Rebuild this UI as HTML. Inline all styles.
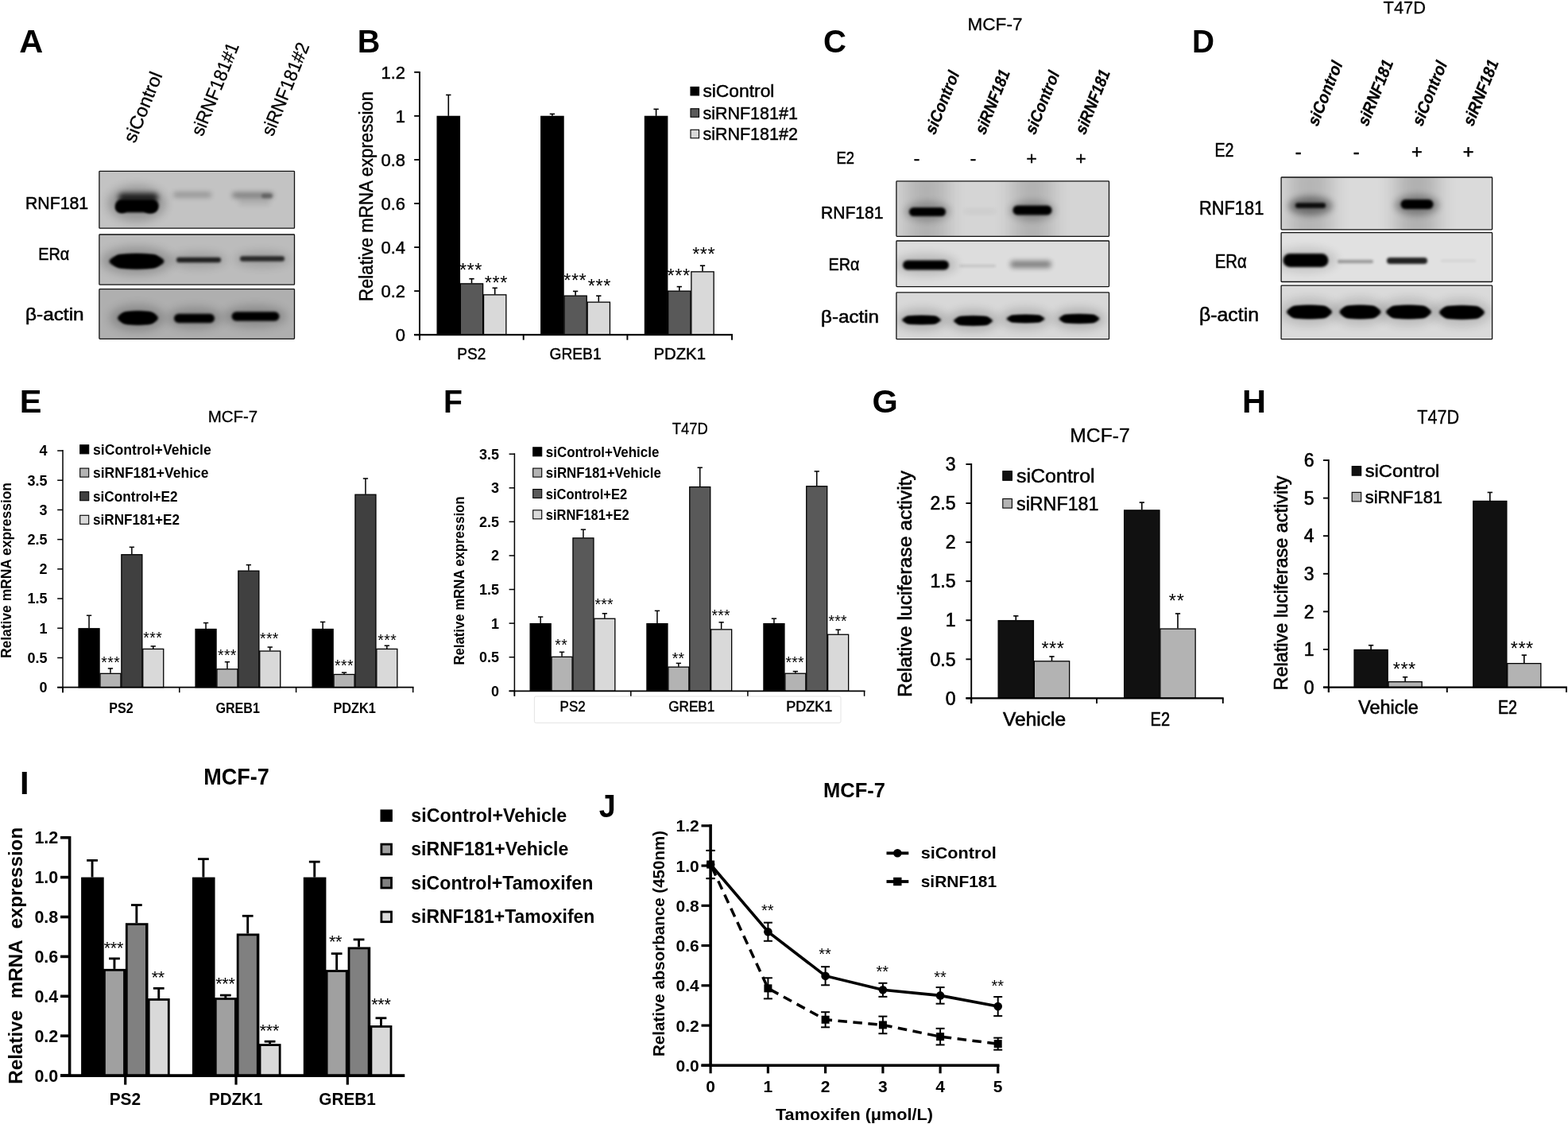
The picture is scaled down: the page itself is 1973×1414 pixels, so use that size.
<!DOCTYPE html>
<html lang="en"><head><meta charset="utf-8"><title>Figure</title>
<style>
html,body{margin:0;padding:0;background:#fff;}
body{width:1973px;height:1414px;overflow:hidden;}
svg{display:block;font-family:"Liberation Sans",sans-serif;}
</style></head><body>
<svg width="1973" height="1414" viewBox="0 0 1973 1414">
<defs>
<filter id="b1" x="-60%" y="-200%" width="220%" height="500%"><feGaussianBlur stdDeviation="1.2"/></filter>
<filter id="b2" x="-60%" y="-200%" width="220%" height="500%"><feGaussianBlur stdDeviation="1.8"/></filter>
<filter id="b3" x="-60%" y="-200%" width="220%" height="500%"><feGaussianBlur stdDeviation="3"/></filter>
<filter id="b4" x="-60%" y="-200%" width="220%" height="500%"><feGaussianBlur stdDeviation="4"/></filter>
<filter id="b6" x="-60%" y="-200%" width="220%" height="500%"><feGaussianBlur stdDeviation="6"/></filter>
<filter id="b8" x="-60%" y="-200%" width="220%" height="500%"><feGaussianBlur stdDeviation="8"/></filter>
<filter id="b12" x="-60%" y="-200%" width="220%" height="500%"><feGaussianBlur stdDeviation="12"/></filter>
<clipPath id="c1"><rect x="124.9" y="215.3" width="245.60" height="71.90"/></clipPath>
<clipPath id="c2"><rect x="124.9" y="295" width="245.60" height="63.20"/></clipPath>
<clipPath id="c3"><rect x="124.9" y="363.7" width="245.60" height="62.70"/></clipPath>
<clipPath id="c4"><rect x="1127.9" y="227.9" width="267.60" height="69.50"/></clipPath>
<clipPath id="c5"><rect x="1127.9" y="303" width="267.60" height="57.60"/></clipPath>
<clipPath id="c6"><rect x="1127.9" y="367.8" width="267.60" height="58.90"/></clipPath>
<clipPath id="c7"><rect x="1612.1" y="223" width="265.50" height="65.90"/></clipPath>
<clipPath id="c8"><rect x="1612.1" y="292.6" width="265.50" height="61.90"/></clipPath>
<clipPath id="c9"><rect x="1612.1" y="359.2" width="265.50" height="67.50"/></clipPath>
</defs>
<rect width="1973" height="1414" fill="#fff"/>
<text x="24.25" y="66.20" font-size="41.5" font-weight="bold">A</text>
<text x="169.80" y="181.00" font-size="23.5" transform="rotate(-68 169.80 181.00)" textLength="93.5" lengthAdjust="spacingAndGlyphs" stroke="#000" stroke-width="0.3">siControl</text>
<text x="254.80" y="172.50" font-size="23.5" transform="rotate(-68 254.80 172.50)" textLength="124.0" lengthAdjust="spacingAndGlyphs" stroke="#000" stroke-width="0.3">siRNF181#1</text>
<text x="343.20" y="172.50" font-size="23.5" transform="rotate(-68 343.20 172.50)" textLength="124.0" lengthAdjust="spacingAndGlyphs" stroke="#000" stroke-width="0.3">siRNF181#2</text>
<text x="32.00" y="263.20" font-size="22.5" textLength="79.2" lengthAdjust="spacingAndGlyphs" stroke="#000" stroke-width="0.55">RNF181</text>
<text x="48.30" y="327.10" font-size="22.5" textLength="39.0" lengthAdjust="spacingAndGlyphs" stroke="#000" stroke-width="0.55">ERα</text>
<text x="32.00" y="402.90" font-size="22.5" textLength="73.6" lengthAdjust="spacingAndGlyphs" stroke="#000" stroke-width="0.55">β-actin</text>
<g clip-path="url(#c1)">
<rect x="124.90" y="215.30" width="245.60" height="71.90" fill="#c3c3c3"/>
<ellipse cx="172" cy="256" rx="37.00" ry="23.00" fill="#000" opacity="0.22" filter="url(#b6)"/>
<rect x="144.80" y="250.75" width="55.00" height="16.50" rx="8.25" fill="#000" opacity="1" filter="url(#b2)"/>
<ellipse cx="153" cy="262" rx="7.50" ry="6.00" fill="#000" opacity="1" filter="url(#b2)"/>
<ellipse cx="189" cy="262.5" rx="8.50" ry="6.00" fill="#000" opacity="1" filter="url(#b2)"/>
<rect x="149.00" y="243.00" width="50.00" height="11.00" rx="5.50" fill="#000" opacity="0.8" filter="url(#b3)"/>
<rect x="218.00" y="241.75" width="48.00" height="6.50" rx="3.25" fill="#000" opacity="0.25" filter="url(#b3)"/>
<rect x="292.00" y="242.00" width="52.00" height="7.00" rx="3.50" fill="#000" opacity="0.36" filter="url(#b3)"/>
<rect x="329.00" y="243.50" width="14.00" height="6.00" rx="3.00" fill="#000" opacity="0.3" filter="url(#b2)"/>
<rect x="300.00" y="250.00" width="40.00" height="8.00" rx="4.00" fill="#000" opacity="0.1" filter="url(#b3)"/>
</g>
<rect x="124.90" y="215.30" width="245.60" height="71.90" fill="none" stroke="#111" stroke-width="1.3" rx="0.8"/>
<g clip-path="url(#c2)">
<rect x="124.90" y="295.00" width="245.60" height="63.20" fill="#bcbcbc"/>
<ellipse cx="172" cy="328" rx="45.00" ry="18.00" fill="#000" opacity="0.2" filter="url(#b6)"/>
<ellipse cx="250" cy="327" rx="35.00" ry="10.00" fill="#000" opacity="0.15" filter="url(#b6)"/>
<ellipse cx="330" cy="326" rx="35.00" ry="10.00" fill="#000" opacity="0.15" filter="url(#b6)"/>
<ellipse cx="172" cy="328.7" rx="34.50" ry="9.75" fill="#000" opacity="1" filter="url(#b2)"/>
<rect x="143.00" y="320.20" width="58.00" height="17.00" rx="8.50" fill="#000" opacity="1" filter="url(#b2)"/>
<rect x="222.00" y="323.75" width="56.00" height="6.50" rx="3.25" fill="#000" opacity="0.8" filter="url(#b2)"/>
<rect x="302.00" y="322.25" width="56.00" height="6.50" rx="3.25" fill="#000" opacity="0.75" filter="url(#b2)"/>
</g>
<rect x="124.90" y="295.00" width="245.60" height="63.20" fill="none" stroke="#111" stroke-width="1.3" rx="0.8"/>
<g clip-path="url(#c3)">
<rect x="124.90" y="363.70" width="245.60" height="62.70" fill="#afafaf"/>
<ellipse cx="173" cy="400" rx="35.00" ry="17.00" fill="#000" opacity="0.2" filter="url(#b6)"/>
<ellipse cx="245" cy="400" rx="35.00" ry="14.00" fill="#000" opacity="0.2" filter="url(#b6)"/>
<ellipse cx="321" cy="398" rx="40.00" ry="14.00" fill="#000" opacity="0.2" filter="url(#b6)"/>
<ellipse cx="173.5" cy="400" rx="25.50" ry="8.75" fill="#000" opacity="1" filter="url(#b2)"/>
<rect x="151.50" y="392.50" width="44.00" height="15.00" rx="7.50" fill="#000" opacity="1" filter="url(#b2)"/>
<rect x="219.00" y="394.75" width="51.00" height="11.50" rx="5.75" fill="#000" opacity="1" filter="url(#b2)"/>
<rect x="291.50" y="392.25" width="60.00" height="11.50" rx="5.75" fill="#000" opacity="1" filter="url(#b2)"/>
</g>
<rect x="124.90" y="363.70" width="245.60" height="62.70" fill="none" stroke="#111" stroke-width="1.3" rx="0.8"/>
<text x="449.82" y="66.00" font-size="41.5" font-weight="bold" textLength="28.6" lengthAdjust="spacingAndGlyphs">B</text>
<rect x="550.15" y="146.37" width="28.30" height="274.83" fill="#000" stroke="#000" stroke-width="1.3"/>
<line x1="564.30" y1="145.87" x2="564.30" y2="119.43" stroke="#000" stroke-width="1.6"/>
<line x1="561.15" y1="119.43" x2="567.45" y2="119.43" stroke="#000" stroke-width="1.6"/>
<rect x="579.35" y="356.89" width="28.30" height="64.31" fill="#595959" stroke="#000" stroke-width="1.3"/>
<line x1="593.50" y1="356.39" x2="593.50" y2="350.71" stroke="#000" stroke-width="1.6"/>
<line x1="590.35" y1="350.71" x2="596.65" y2="350.71" stroke="#000" stroke-width="1.6"/>
<rect x="608.55" y="370.85" width="28.30" height="50.35" fill="#d9d9d9" stroke="#000" stroke-width="1.3"/>
<line x1="622.70" y1="370.35" x2="622.70" y2="362.28" stroke="#000" stroke-width="1.6"/>
<line x1="619.55" y1="362.28" x2="625.85" y2="362.28" stroke="#000" stroke-width="1.6"/>
<rect x="680.75" y="146.37" width="28.30" height="274.83" fill="#000" stroke="#000" stroke-width="1.3"/>
<line x1="694.90" y1="145.87" x2="694.90" y2="143.39" stroke="#000" stroke-width="1.6"/>
<line x1="691.75" y1="143.39" x2="698.05" y2="143.39" stroke="#000" stroke-width="1.6"/>
<rect x="709.95" y="372.14" width="28.30" height="49.06" fill="#595959" stroke="#000" stroke-width="1.3"/>
<line x1="724.10" y1="371.64" x2="724.10" y2="366.41" stroke="#000" stroke-width="1.6"/>
<line x1="720.95" y1="366.41" x2="727.25" y2="366.41" stroke="#000" stroke-width="1.6"/>
<rect x="739.15" y="380.12" width="28.30" height="41.08" fill="#d9d9d9" stroke="#000" stroke-width="1.3"/>
<line x1="753.30" y1="379.62" x2="753.30" y2="372.19" stroke="#000" stroke-width="1.6"/>
<line x1="750.15" y1="372.19" x2="756.45" y2="372.19" stroke="#000" stroke-width="1.6"/>
<rect x="811.45" y="146.37" width="28.30" height="274.83" fill="#000" stroke="#000" stroke-width="1.3"/>
<line x1="825.60" y1="145.87" x2="825.60" y2="137.33" stroke="#000" stroke-width="1.6"/>
<line x1="822.45" y1="137.33" x2="828.75" y2="137.33" stroke="#000" stroke-width="1.6"/>
<rect x="840.65" y="366.19" width="28.30" height="55.01" fill="#595959" stroke="#000" stroke-width="1.3"/>
<line x1="854.80" y1="365.69" x2="854.80" y2="360.63" stroke="#000" stroke-width="1.6"/>
<line x1="851.65" y1="360.63" x2="857.95" y2="360.63" stroke="#000" stroke-width="1.6"/>
<rect x="869.85" y="341.85" width="28.30" height="79.35" fill="#d9d9d9" stroke="#000" stroke-width="1.3"/>
<line x1="884.00" y1="341.35" x2="884.00" y2="334.19" stroke="#000" stroke-width="1.6"/>
<line x1="880.85" y1="334.19" x2="887.15" y2="334.19" stroke="#000" stroke-width="1.6"/>
<line x1="528.00" y1="89.90" x2="528.00" y2="427.70" stroke="#000" stroke-width="1.9"/>
<line x1="521.20" y1="421.20" x2="921.90" y2="421.20" stroke="#000" stroke-width="2.1999999999999997"/>
<line x1="521.20" y1="421.20" x2="528.00" y2="421.20" stroke="#000" stroke-width="1.9"/>
<text x="510.00" y="429.01" font-size="22" text-anchor="end" stroke="#000" stroke-width="0.45">0</text>
<line x1="521.20" y1="366.13" x2="528.00" y2="366.13" stroke="#000" stroke-width="1.9"/>
<text x="510.00" y="373.94" font-size="22" text-anchor="end" stroke="#000" stroke-width="0.45">0.2</text>
<line x1="521.20" y1="311.07" x2="528.00" y2="311.07" stroke="#000" stroke-width="1.9"/>
<text x="510.00" y="318.88" font-size="22" text-anchor="end" stroke="#000" stroke-width="0.45">0.4</text>
<line x1="521.20" y1="256.00" x2="528.00" y2="256.00" stroke="#000" stroke-width="1.9"/>
<text x="510.00" y="263.81" font-size="22" text-anchor="end" stroke="#000" stroke-width="0.45">0.6</text>
<line x1="521.20" y1="200.93" x2="528.00" y2="200.93" stroke="#000" stroke-width="1.9"/>
<text x="510.00" y="208.74" font-size="22" text-anchor="end" stroke="#000" stroke-width="0.45">0.8</text>
<line x1="521.20" y1="145.87" x2="528.00" y2="145.87" stroke="#000" stroke-width="1.9"/>
<text x="510.00" y="153.68" font-size="22" text-anchor="end" stroke="#000" stroke-width="0.45">1</text>
<line x1="521.20" y1="90.80" x2="528.00" y2="90.80" stroke="#000" stroke-width="1.9"/>
<text x="510.00" y="98.61" font-size="22" text-anchor="end" stroke="#000" stroke-width="0.45">1.2</text>
<line x1="528.00" y1="421.20" x2="528.00" y2="427.70" stroke="#000" stroke-width="1.9"/>
<line x1="658.70" y1="421.20" x2="658.70" y2="427.70" stroke="#000" stroke-width="1.9"/>
<line x1="789.40" y1="421.20" x2="789.40" y2="427.70" stroke="#000" stroke-width="1.9"/>
<line x1="921.00" y1="421.20" x2="921.00" y2="427.70" stroke="#000" stroke-width="1.9"/>
<text x="468.50" y="247.00" font-size="23.5" text-anchor="middle" transform="rotate(-90 468.50 247.00)" textLength="264.0" lengthAdjust="spacingAndGlyphs" stroke="#000" stroke-width="0.45">Relative mRNA expression</text>
<text x="593.35" y="452.30" font-size="20.5" text-anchor="middle" textLength="36.0" lengthAdjust="spacingAndGlyphs" stroke="#000" stroke-width="0.45">PS2</text>
<text x="724.05" y="452.30" font-size="20.5" text-anchor="middle" textLength="65.0" lengthAdjust="spacingAndGlyphs" stroke="#000" stroke-width="0.45">GREB1</text>
<text x="855.20" y="452.30" font-size="20.5" text-anchor="middle" textLength="65.5" lengthAdjust="spacingAndGlyphs" stroke="#000" stroke-width="0.45">PDZK1</text>
<text x="592.20" y="348.44" font-size="23.5" text-anchor="middle" textLength="28.5" lengthAdjust="spacing">***</text>
<text x="624.10" y="364.44" font-size="23.5" text-anchor="middle" textLength="28.5" lengthAdjust="spacing">***</text>
<text x="723.50" y="361.04" font-size="23.5" text-anchor="middle" textLength="28.5" lengthAdjust="spacing">***</text>
<text x="754.10" y="368.44" font-size="23.5" text-anchor="middle" textLength="28.5" lengthAdjust="spacing">***</text>
<text x="853.80" y="355.04" font-size="23.5" text-anchor="middle" textLength="28.5" lengthAdjust="spacing">***</text>
<text x="885.40" y="327.84" font-size="23.5" text-anchor="middle" textLength="28.5" lengthAdjust="spacing">***</text>
<rect x="869.00" y="109.45" width="10.50" height="10.50" fill="#000" stroke="#000" stroke-width="1.1"/>
<text x="884.40" y="122.33" font-size="21.5" textLength="90.0" lengthAdjust="spacingAndGlyphs" stroke="#000" stroke-width="0.45">siControl</text>
<rect x="869.00" y="136.75" width="10.50" height="10.50" fill="#595959" stroke="#000" stroke-width="1.1"/>
<text x="884.40" y="149.63" font-size="21.5" textLength="119.5" lengthAdjust="spacingAndGlyphs" stroke="#000" stroke-width="0.45">siRNF181#1</text>
<rect x="869.00" y="163.25" width="10.50" height="10.50" fill="#d9d9d9" stroke="#000" stroke-width="1.1"/>
<text x="884.40" y="176.13" font-size="21.5" textLength="119.5" lengthAdjust="spacingAndGlyphs" stroke="#000" stroke-width="0.45">siRNF181#2</text>
<text x="1036.09" y="66.20" font-size="41.5" font-weight="bold" textLength="29.0" lengthAdjust="spacingAndGlyphs">C</text>
<text x="1252.00" y="37.80" font-size="22" text-anchor="middle" textLength="69.0" lengthAdjust="spacingAndGlyphs" stroke="#000" stroke-width="0.3">MCF-7</text>
<text x="0" y="0" font-size="21" font-weight="bold" transform="translate(1176.00 171.00) rotate(-68) skewX(-9)" textLength="83.5" lengthAdjust="spacingAndGlyphs" stroke="#000" stroke-width="0.25">siControl</text>
<text x="0" y="0" font-size="21" font-weight="bold" transform="translate(1239.00 171.00) rotate(-68) skewX(-9)" textLength="85.5" lengthAdjust="spacingAndGlyphs" stroke="#000" stroke-width="0.25">siRNF181</text>
<text x="0" y="0" font-size="21" font-weight="bold" transform="translate(1302.00 171.00) rotate(-68) skewX(-9)" textLength="83.5" lengthAdjust="spacingAndGlyphs" stroke="#000" stroke-width="0.25">siControl</text>
<text x="0" y="0" font-size="21" font-weight="bold" transform="translate(1365.00 171.00) rotate(-68) skewX(-9)" textLength="85.5" lengthAdjust="spacingAndGlyphs" stroke="#000" stroke-width="0.25">siRNF181</text>
<text x="1052.50" y="206.00" font-size="22.5" textLength="22.5" lengthAdjust="spacingAndGlyphs" stroke="#000" stroke-width="0.55">E2</text>
<text x="1153.60" y="206.50" font-size="22.5" text-anchor="middle" stroke="#000" stroke-width="0.55">-</text>
<text x="1224.40" y="206.50" font-size="22.5" text-anchor="middle" stroke="#000" stroke-width="0.55">-</text>
<text x="1298.00" y="206.50" font-size="22.5" text-anchor="middle" stroke="#000" stroke-width="0.55">+</text>
<text x="1360.00" y="206.50" font-size="22.5" text-anchor="middle" stroke="#000" stroke-width="0.55">+</text>
<text x="1033.00" y="275.00" font-size="22.5" textLength="78.5" lengthAdjust="spacingAndGlyphs" stroke="#000" stroke-width="0.55">RNF181</text>
<text x="1042.50" y="340.00" font-size="22.5" textLength="39.0" lengthAdjust="spacingAndGlyphs" stroke="#000" stroke-width="0.55">ERα</text>
<text x="1033.00" y="405.50" font-size="22.5" textLength="73.0" lengthAdjust="spacingAndGlyphs" stroke="#000" stroke-width="0.55">β-actin</text>
<g clip-path="url(#c4)">
<rect x="1127.90" y="227.90" width="267.60" height="69.50" fill="#d5d5d5"/>
<ellipse cx="1167" cy="266" rx="29.00" ry="13.00" fill="#000" opacity="0.2" filter="url(#b4)"/>
<ellipse cx="1299" cy="265" rx="29.00" ry="13.00" fill="#000" opacity="0.2" filter="url(#b4)"/>
<rect x="1140.00" y="206.00" width="52.00" height="120.00" fill="#000" opacity="0.16" filter="url(#b12)"/>
<rect x="1274.00" y="206.00" width="50.00" height="120.00" fill="#000" opacity="0.16" filter="url(#b12)"/>
<rect x="1144.00" y="261.00" width="46.00" height="11.00" rx="5.50" fill="#000" opacity="1" filter="url(#b2)"/>
<rect x="1274.50" y="258.50" width="49.00" height="12.00" rx="6.00" fill="#000" opacity="1" filter="url(#b2)"/>
<rect x="1213.00" y="263.50" width="40.00" height="5.00" rx="2.50" fill="#000" opacity="0.06" filter="url(#b3)"/>
</g>
<rect x="1127.90" y="227.90" width="267.60" height="69.50" fill="none" stroke="#111" stroke-width="1.3" rx="0.8"/>
<g clip-path="url(#c5)">
<rect x="1127.90" y="303.00" width="267.60" height="57.60" fill="#dddddd"/>
<ellipse cx="1165" cy="333" rx="40.00" ry="14.00" fill="#000" opacity="0.15" filter="url(#b6)"/>
<rect x="1136.00" y="327.50" width="58.00" height="12.00" rx="6.00" fill="#000" opacity="1" filter="url(#b2)"/>
<rect x="1207.00" y="332.75" width="46.00" height="3.50" rx="1.75" fill="#000" opacity="0.1" filter="url(#b2)"/>
<rect x="1271.00" y="328.00" width="52.00" height="9.00" rx="4.50" fill="#000" opacity="0.42" filter="url(#b3)"/>
</g>
<rect x="1127.90" y="303.00" width="267.60" height="57.60" fill="none" stroke="#111" stroke-width="1.3" rx="0.8"/>
<g clip-path="url(#c6)">
<rect x="1127.90" y="367.80" width="267.60" height="58.90" fill="#d8d8d8"/>
<ellipse cx="1160" cy="402" rx="33.00" ry="14.00" fill="#000" opacity="0.17" filter="url(#b6)"/>
<ellipse cx="1224" cy="403" rx="33.00" ry="14.00" fill="#000" opacity="0.17" filter="url(#b6)"/>
<ellipse cx="1290" cy="401" rx="33.00" ry="14.00" fill="#000" opacity="0.15" filter="url(#b6)"/>
<ellipse cx="1358" cy="401" rx="33.00" ry="14.00" fill="#000" opacity="0.17" filter="url(#b6)"/>
<rect x="1138.50" y="397.75" width="42.00" height="9.50" rx="4.75" fill="#000" opacity="1" filter="url(#b2)"/>
<rect x="1203.50" y="398.25" width="42.00" height="10.50" rx="5.25" fill="#000" opacity="1" filter="url(#b2)"/>
<rect x="1270.00" y="396.75" width="41.00" height="8.50" rx="4.25" fill="#000" opacity="1" filter="url(#b2)"/>
<rect x="1336.00" y="396.00" width="44.00" height="10.00" rx="5.00" fill="#000" opacity="1" filter="url(#b2)"/>
<ellipse cx="1159.5" cy="402.5" rx="24.50" ry="5.50" fill="#000" opacity="1" filter="url(#b2)"/>
<ellipse cx="1224.5" cy="403.5" rx="24.50" ry="6.00" fill="#000" opacity="1" filter="url(#b2)"/>
<ellipse cx="1290.5" cy="401" rx="24.00" ry="5.00" fill="#000" opacity="1" filter="url(#b2)"/>
<ellipse cx="1358" cy="401" rx="25.50" ry="5.75" fill="#000" opacity="1" filter="url(#b2)"/>
</g>
<rect x="1127.90" y="367.80" width="267.60" height="58.90" fill="none" stroke="#111" stroke-width="1.3" rx="0.8"/>
<text x="1499.97" y="65.80" font-size="41.5" font-weight="bold" textLength="28.0" lengthAdjust="spacingAndGlyphs">D</text>
<text x="1767.30" y="17.30" font-size="22" text-anchor="middle" textLength="53.5" lengthAdjust="spacingAndGlyphs" stroke="#000" stroke-width="0.3">T47D</text>
<text x="0" y="0" font-size="21" font-weight="bold" transform="translate(1657.50 160.50) rotate(-68) skewX(-9)" textLength="85.5" lengthAdjust="spacingAndGlyphs" stroke="#000" stroke-width="0.25">siControl</text>
<text x="0" y="0" font-size="21" font-weight="bold" transform="translate(1720.50 160.50) rotate(-68) skewX(-9)" textLength="87.5" lengthAdjust="spacingAndGlyphs" stroke="#000" stroke-width="0.25">siRNF181</text>
<text x="0" y="0" font-size="21" font-weight="bold" transform="translate(1789.00 160.50) rotate(-68) skewX(-9)" textLength="85.5" lengthAdjust="spacingAndGlyphs" stroke="#000" stroke-width="0.25">siControl</text>
<text x="0" y="0" font-size="21" font-weight="bold" transform="translate(1853.00 160.50) rotate(-68) skewX(-9)" textLength="87.5" lengthAdjust="spacingAndGlyphs" stroke="#000" stroke-width="0.25">siRNF181</text>
<text x="1528.50" y="197.40" font-size="23.5" textLength="24.0" lengthAdjust="spacingAndGlyphs" stroke="#000" stroke-width="0.55">E2</text>
<text x="1633.60" y="198.50" font-size="23.5" text-anchor="middle" stroke="#000" stroke-width="0.55">-</text>
<text x="1706.70" y="198.50" font-size="23.5" text-anchor="middle" stroke="#000" stroke-width="0.55">-</text>
<text x="1782.80" y="198.50" font-size="23.5" text-anchor="middle" stroke="#000" stroke-width="0.55">+</text>
<text x="1847.60" y="198.50" font-size="23.5" text-anchor="middle" stroke="#000" stroke-width="0.55">+</text>
<text x="1509.00" y="269.90" font-size="24" textLength="81.3" lengthAdjust="spacingAndGlyphs" stroke="#000" stroke-width="0.55">RNF181</text>
<text x="1528.80" y="336.50" font-size="24" textLength="40.0" lengthAdjust="spacingAndGlyphs" stroke="#000" stroke-width="0.55">ERα</text>
<text x="1509.00" y="404.00" font-size="24" textLength="75.0" lengthAdjust="spacingAndGlyphs" stroke="#000" stroke-width="0.55">β-actin</text>
<g clip-path="url(#c7)">
<rect x="1612.10" y="223.00" width="265.50" height="65.90" fill="#dadada"/>
<ellipse cx="1649" cy="259" rx="28.00" ry="12.00" fill="#000" opacity="0.4" filter="url(#b4)"/>
<ellipse cx="1783" cy="258" rx="28.00" ry="13.00" fill="#000" opacity="0.3" filter="url(#b4)"/>
<rect x="1621.00" y="200.00" width="54.00" height="120.00" fill="#000" opacity="0.17" filter="url(#b12)"/>
<rect x="1757.00" y="200.00" width="52.00" height="120.00" fill="#000" opacity="0.19" filter="url(#b12)"/>
<rect x="1630.00" y="255.25" width="38.00" height="6.50" rx="3.25" fill="#000" opacity="0.9" filter="url(#b2)"/>
<rect x="1762.50" y="251.00" width="41.00" height="12.00" rx="6.00" fill="#000" opacity="1" filter="url(#b2)"/>
</g>
<rect x="1612.10" y="223.00" width="265.50" height="65.90" fill="none" stroke="#111" stroke-width="1.3" rx="0.8"/>
<g clip-path="url(#c8)">
<rect x="1612.10" y="292.60" width="265.50" height="61.90" fill="#e1e1e1"/>
<ellipse cx="1643" cy="327" rx="40.00" ry="16.00" fill="#000" opacity="0.12" filter="url(#b6)"/>
<rect x="1614.50" y="319.00" width="57.00" height="17.00" rx="8.50" fill="#000" opacity="1" filter="url(#b2)"/>
<rect x="1683.00" y="326.75" width="45.00" height="4.50" rx="2.25" fill="#000" opacity="0.3" filter="url(#b2)"/>
<rect x="1745.00" y="324.00" width="51.00" height="8.00" rx="4.00" fill="#000" opacity="0.85" filter="url(#b2)"/>
<rect x="1813.00" y="326.50" width="44.00" height="3.00" rx="1.50" fill="#000" opacity="0.06" filter="url(#b2)"/>
</g>
<rect x="1612.10" y="292.60" width="265.50" height="61.90" fill="none" stroke="#111" stroke-width="1.3" rx="0.8"/>
<g clip-path="url(#c9)">
<rect x="1612.10" y="359.20" width="265.50" height="67.50" fill="#dadada"/>
<ellipse cx="1647" cy="392" rx="38.00" ry="18.00" fill="#000" opacity="0.13" filter="url(#b6)"/>
<ellipse cx="1711" cy="392" rx="35.00" ry="18.00" fill="#000" opacity="0.13" filter="url(#b6)"/>
<ellipse cx="1772" cy="392" rx="38.00" ry="18.00" fill="#000" opacity="0.13" filter="url(#b6)"/>
<ellipse cx="1839" cy="393" rx="38.00" ry="18.00" fill="#000" opacity="0.13" filter="url(#b6)"/>
<rect x="1622.50" y="384.75" width="50.00" height="15.50" rx="7.75" fill="#000" opacity="1" filter="url(#b2)"/>
<rect x="1689.00" y="384.75" width="45.00" height="15.50" rx="7.75" fill="#000" opacity="1" filter="url(#b2)"/>
<rect x="1747.50" y="384.75" width="50.00" height="15.50" rx="7.75" fill="#000" opacity="1" filter="url(#b2)"/>
<rect x="1814.50" y="385.25" width="50.00" height="15.50" rx="7.75" fill="#000" opacity="1" filter="url(#b2)"/>
<ellipse cx="1647.5" cy="392.5" rx="28.50" ry="8.50" fill="#000" opacity="1" filter="url(#b2)"/>
<ellipse cx="1711.5" cy="392.5" rx="26.00" ry="8.50" fill="#000" opacity="1" filter="url(#b2)"/>
<ellipse cx="1772.5" cy="392.5" rx="28.50" ry="8.50" fill="#000" opacity="1" filter="url(#b2)"/>
<ellipse cx="1839.5" cy="393" rx="28.50" ry="8.50" fill="#000" opacity="1" filter="url(#b2)"/>
</g>
<rect x="1612.10" y="359.20" width="265.50" height="67.50" fill="none" stroke="#111" stroke-width="1.3" rx="0.8"/>
<text x="24.67" y="518.80" font-size="41.5" font-weight="bold">E</text>
<text x="293.00" y="530.50" font-size="20.5" text-anchor="middle" textLength="62.5" lengthAdjust="spacingAndGlyphs" stroke="#000" stroke-width="0.3">MCF-7</text>
<rect x="99.05" y="790.78" width="26.00" height="73.93" fill="#000" stroke="#000" stroke-width="1.3"/>
<line x1="112.05" y1="790.28" x2="112.05" y2="774.27" stroke="#000" stroke-width="1.5"/>
<line x1="108.90" y1="774.27" x2="115.20" y2="774.27" stroke="#000" stroke-width="1.5"/>
<rect x="125.95" y="847.34" width="26.00" height="17.36" fill="#b3b3b3" stroke="#000" stroke-width="1.3"/>
<line x1="138.95" y1="846.84" x2="138.95" y2="840.88" stroke="#000" stroke-width="1.5"/>
<line x1="135.80" y1="840.88" x2="142.10" y2="840.88" stroke="#000" stroke-width="1.5"/>
<rect x="152.85" y="697.74" width="26.00" height="166.96" fill="#404040" stroke="#000" stroke-width="1.3"/>
<line x1="165.85" y1="697.24" x2="165.85" y2="688.31" stroke="#000" stroke-width="1.5"/>
<line x1="162.70" y1="688.31" x2="169.00" y2="688.31" stroke="#000" stroke-width="1.5"/>
<rect x="179.75" y="816.45" width="26.00" height="48.25" fill="#d9d9d9" stroke="#000" stroke-width="1.3"/>
<line x1="192.75" y1="815.95" x2="192.75" y2="812.97" stroke="#000" stroke-width="1.5"/>
<line x1="189.60" y1="812.97" x2="195.90" y2="812.97" stroke="#000" stroke-width="1.5"/>
<rect x="246.05" y="791.52" width="26.00" height="73.18" fill="#000" stroke="#000" stroke-width="1.3"/>
<line x1="259.05" y1="791.02" x2="259.05" y2="783.58" stroke="#000" stroke-width="1.5"/>
<line x1="255.90" y1="783.58" x2="262.20" y2="783.58" stroke="#000" stroke-width="1.5"/>
<rect x="272.95" y="841.76" width="26.00" height="22.94" fill="#b3b3b3" stroke="#000" stroke-width="1.3"/>
<line x1="285.95" y1="841.26" x2="285.95" y2="832.70" stroke="#000" stroke-width="1.5"/>
<line x1="282.80" y1="832.70" x2="289.10" y2="832.70" stroke="#000" stroke-width="1.5"/>
<rect x="299.85" y="718.21" width="26.00" height="146.49" fill="#404040" stroke="#000" stroke-width="1.3"/>
<line x1="312.85" y1="717.71" x2="312.85" y2="710.64" stroke="#000" stroke-width="1.5"/>
<line x1="309.70" y1="710.64" x2="316.00" y2="710.64" stroke="#000" stroke-width="1.5"/>
<rect x="326.75" y="819.06" width="26.00" height="45.64" fill="#d9d9d9" stroke="#000" stroke-width="1.3"/>
<line x1="339.75" y1="818.56" x2="339.75" y2="814.09" stroke="#000" stroke-width="1.5"/>
<line x1="336.60" y1="814.09" x2="342.90" y2="814.09" stroke="#000" stroke-width="1.5"/>
<rect x="393.15" y="791.52" width="26.00" height="73.18" fill="#000" stroke="#000" stroke-width="1.3"/>
<line x1="406.15" y1="791.02" x2="406.15" y2="782.46" stroke="#000" stroke-width="1.5"/>
<line x1="403.00" y1="782.46" x2="409.30" y2="782.46" stroke="#000" stroke-width="1.5"/>
<rect x="420.05" y="848.45" width="26.00" height="16.25" fill="#b3b3b3" stroke="#000" stroke-width="1.3"/>
<line x1="433.05" y1="847.95" x2="433.05" y2="846.09" stroke="#000" stroke-width="1.5"/>
<line x1="429.90" y1="846.09" x2="436.20" y2="846.09" stroke="#000" stroke-width="1.5"/>
<rect x="446.95" y="622.20" width="26.00" height="242.50" fill="#404040" stroke="#000" stroke-width="1.3"/>
<line x1="459.95" y1="621.70" x2="459.95" y2="601.98" stroke="#000" stroke-width="1.5"/>
<line x1="456.80" y1="601.98" x2="463.10" y2="601.98" stroke="#000" stroke-width="1.5"/>
<rect x="473.85" y="816.45" width="26.00" height="48.25" fill="#d9d9d9" stroke="#000" stroke-width="1.3"/>
<line x1="486.85" y1="815.95" x2="486.85" y2="812.23" stroke="#000" stroke-width="1.5"/>
<line x1="483.70" y1="812.23" x2="490.00" y2="812.23" stroke="#000" stroke-width="1.5"/>
<line x1="79.00" y1="566.10" x2="79.00" y2="871.20" stroke="#000" stroke-width="1.5"/>
<line x1="72.20" y1="864.70" x2="520.60" y2="864.70" stroke="#000" stroke-width="1.8"/>
<line x1="72.20" y1="864.70" x2="79.00" y2="864.70" stroke="#000" stroke-width="1.5"/>
<text x="59.60" y="871.09" font-size="18" font-weight="bold" text-anchor="end">0</text>
<line x1="72.20" y1="827.49" x2="79.00" y2="827.49" stroke="#000" stroke-width="1.5"/>
<text x="59.60" y="833.88" font-size="18" font-weight="bold" text-anchor="end">0.5</text>
<line x1="72.20" y1="790.28" x2="79.00" y2="790.28" stroke="#000" stroke-width="1.5"/>
<text x="59.60" y="796.67" font-size="18" font-weight="bold" text-anchor="end">1</text>
<line x1="72.20" y1="753.06" x2="79.00" y2="753.06" stroke="#000" stroke-width="1.5"/>
<text x="59.60" y="759.45" font-size="18" font-weight="bold" text-anchor="end">1.5</text>
<line x1="72.20" y1="715.85" x2="79.00" y2="715.85" stroke="#000" stroke-width="1.5"/>
<text x="59.60" y="722.24" font-size="18" font-weight="bold" text-anchor="end">2</text>
<line x1="72.20" y1="678.64" x2="79.00" y2="678.64" stroke="#000" stroke-width="1.5"/>
<text x="59.60" y="685.03" font-size="18" font-weight="bold" text-anchor="end">2.5</text>
<line x1="72.20" y1="641.42" x2="79.00" y2="641.42" stroke="#000" stroke-width="1.5"/>
<text x="59.60" y="647.81" font-size="18" font-weight="bold" text-anchor="end">3</text>
<line x1="72.20" y1="604.21" x2="79.00" y2="604.21" stroke="#000" stroke-width="1.5"/>
<text x="59.60" y="610.60" font-size="18" font-weight="bold" text-anchor="end">3.5</text>
<line x1="72.20" y1="567.00" x2="79.00" y2="567.00" stroke="#000" stroke-width="1.5"/>
<text x="59.60" y="573.39" font-size="18" font-weight="bold" text-anchor="end">4</text>
<line x1="79.00" y1="864.70" x2="79.00" y2="871.20" stroke="#000" stroke-width="1.5"/>
<line x1="225.80" y1="864.70" x2="225.80" y2="871.20" stroke="#000" stroke-width="1.5"/>
<line x1="372.60" y1="864.70" x2="372.60" y2="871.20" stroke="#000" stroke-width="1.5"/>
<line x1="519.70" y1="864.70" x2="519.70" y2="871.20" stroke="#000" stroke-width="1.5"/>
<text x="14.40" y="717.50" font-size="17.5" font-weight="bold" text-anchor="middle" transform="rotate(-90 14.40 717.50)" textLength="221.0" lengthAdjust="spacingAndGlyphs">Relative mRNA expression</text>
<text x="152.40" y="897.10" font-size="18.5" font-weight="bold" text-anchor="middle" textLength="30.4" lengthAdjust="spacingAndGlyphs">PS2</text>
<text x="299.20" y="897.10" font-size="18.5" font-weight="bold" text-anchor="middle" textLength="55.3" lengthAdjust="spacingAndGlyphs">GREB1</text>
<text x="446.15" y="897.10" font-size="18.5" font-weight="bold" text-anchor="middle" textLength="53.4" lengthAdjust="spacingAndGlyphs">PDZK1</text>
<text x="139.00" y="839.84" font-size="19.4" text-anchor="middle" textLength="23.4" lengthAdjust="spacing">***</text>
<text x="192.00" y="809.34" font-size="19.4" text-anchor="middle" textLength="23.4" lengthAdjust="spacing">***</text>
<text x="285.70" y="830.74" font-size="19.4" text-anchor="middle" textLength="23.4" lengthAdjust="spacing">***</text>
<text x="338.70" y="809.64" font-size="19.4" text-anchor="middle" textLength="23.4" lengthAdjust="spacing">***</text>
<text x="432.80" y="843.74" font-size="19.4" text-anchor="middle" textLength="23.4" lengthAdjust="spacing">***</text>
<text x="487.00" y="812.34" font-size="19.4" text-anchor="middle" textLength="23.4" lengthAdjust="spacing">***</text>
<rect x="100.70" y="559.80" width="11.00" height="11.00" fill="#000" stroke="#000" stroke-width="1.1"/>
<text x="117.00" y="571.94" font-size="18.7" font-weight="bold" textLength="148.8" lengthAdjust="spacingAndGlyphs">siControl+Vehicle</text>
<rect x="100.70" y="589.10" width="11.00" height="11.00" fill="#b3b3b3" stroke="#000" stroke-width="1.1"/>
<text x="117.00" y="601.24" font-size="18.7" font-weight="bold" textLength="145.5" lengthAdjust="spacingAndGlyphs">siRNF181+Vehice</text>
<rect x="100.70" y="618.70" width="11.00" height="11.00" fill="#404040" stroke="#000" stroke-width="1.1"/>
<text x="117.00" y="630.84" font-size="18.7" font-weight="bold" textLength="106.5" lengthAdjust="spacingAndGlyphs">siControl+E2</text>
<rect x="100.70" y="648.30" width="11.00" height="11.00" fill="#d9d9d9" stroke="#000" stroke-width="1.1"/>
<text x="117.00" y="660.44" font-size="18.7" font-weight="bold" textLength="109.0" lengthAdjust="spacingAndGlyphs">siRNF181+E2</text>
<text x="557.97" y="518.80" font-size="41.5" font-weight="bold" textLength="24.0" lengthAdjust="spacingAndGlyphs">F</text>
<text x="868.30" y="546.30" font-size="19.5" text-anchor="middle" textLength="45.0" lengthAdjust="spacingAndGlyphs" stroke="#000" stroke-width="0.3">T47D</text>
<rect x="672.40" y="876.00" width="385.60" height="33.30" fill="none" stroke="#e3e3e3" stroke-width="1" rx="2"/>
<rect x="667.15" y="784.63" width="26.00" height="84.67" fill="#000" stroke="#000" stroke-width="1.3"/>
<line x1="680.15" y1="784.13" x2="680.15" y2="776.04" stroke="#000" stroke-width="1.5"/>
<line x1="677.00" y1="776.04" x2="683.30" y2="776.04" stroke="#000" stroke-width="1.5"/>
<rect x="694.05" y="826.36" width="26.00" height="42.94" fill="#b3b3b3" stroke="#000" stroke-width="1.3"/>
<line x1="707.05" y1="825.86" x2="707.05" y2="820.33" stroke="#000" stroke-width="1.5"/>
<line x1="703.90" y1="820.33" x2="710.20" y2="820.33" stroke="#000" stroke-width="1.5"/>
<rect x="720.95" y="676.89" width="26.00" height="192.41" fill="#595959" stroke="#000" stroke-width="1.3"/>
<line x1="733.95" y1="676.39" x2="733.95" y2="666.17" stroke="#000" stroke-width="1.5"/>
<line x1="730.80" y1="666.17" x2="737.10" y2="666.17" stroke="#000" stroke-width="1.5"/>
<rect x="747.85" y="778.24" width="26.00" height="91.06" fill="#d9d9d9" stroke="#000" stroke-width="1.3"/>
<line x1="760.85" y1="777.74" x2="760.85" y2="771.78" stroke="#000" stroke-width="1.5"/>
<line x1="757.70" y1="771.78" x2="764.00" y2="771.78" stroke="#000" stroke-width="1.5"/>
<rect x="813.95" y="784.63" width="26.00" height="84.67" fill="#000" stroke="#000" stroke-width="1.3"/>
<line x1="826.95" y1="784.13" x2="826.95" y2="768.37" stroke="#000" stroke-width="1.5"/>
<line x1="823.80" y1="768.37" x2="830.10" y2="768.37" stroke="#000" stroke-width="1.5"/>
<rect x="840.85" y="839.14" width="26.00" height="30.16" fill="#b3b3b3" stroke="#000" stroke-width="1.3"/>
<line x1="853.85" y1="838.64" x2="853.85" y2="834.38" stroke="#000" stroke-width="1.5"/>
<line x1="850.70" y1="834.38" x2="857.00" y2="834.38" stroke="#000" stroke-width="1.5"/>
<rect x="867.75" y="612.58" width="26.00" height="256.72" fill="#595959" stroke="#000" stroke-width="1.3"/>
<line x1="880.75" y1="612.08" x2="880.75" y2="588.23" stroke="#000" stroke-width="1.5"/>
<line x1="877.60" y1="588.23" x2="883.90" y2="588.23" stroke="#000" stroke-width="1.5"/>
<rect x="894.65" y="791.87" width="26.00" height="77.43" fill="#d9d9d9" stroke="#000" stroke-width="1.3"/>
<line x1="907.65" y1="791.37" x2="907.65" y2="782.85" stroke="#000" stroke-width="1.5"/>
<line x1="904.50" y1="782.85" x2="910.80" y2="782.85" stroke="#000" stroke-width="1.5"/>
<rect x="960.95" y="784.63" width="26.00" height="84.67" fill="#000" stroke="#000" stroke-width="1.3"/>
<line x1="973.95" y1="784.13" x2="973.95" y2="778.17" stroke="#000" stroke-width="1.5"/>
<line x1="970.80" y1="778.17" x2="977.10" y2="778.17" stroke="#000" stroke-width="1.5"/>
<rect x="987.85" y="847.23" width="26.00" height="22.07" fill="#b3b3b3" stroke="#000" stroke-width="1.3"/>
<line x1="1000.85" y1="846.73" x2="1000.85" y2="844.60" stroke="#000" stroke-width="1.5"/>
<line x1="997.70" y1="844.60" x2="1004.00" y2="844.60" stroke="#000" stroke-width="1.5"/>
<rect x="1014.75" y="611.73" width="26.00" height="257.57" fill="#595959" stroke="#000" stroke-width="1.3"/>
<line x1="1027.75" y1="611.23" x2="1027.75" y2="592.92" stroke="#000" stroke-width="1.5"/>
<line x1="1024.60" y1="592.92" x2="1030.90" y2="592.92" stroke="#000" stroke-width="1.5"/>
<rect x="1041.65" y="798.26" width="26.00" height="71.04" fill="#d9d9d9" stroke="#000" stroke-width="1.3"/>
<line x1="1054.65" y1="797.76" x2="1054.65" y2="792.22" stroke="#000" stroke-width="1.5"/>
<line x1="1051.50" y1="792.22" x2="1057.80" y2="792.22" stroke="#000" stroke-width="1.5"/>
<line x1="647.40" y1="570.30" x2="647.40" y2="875.80" stroke="#000" stroke-width="1.5"/>
<line x1="640.60" y1="869.30" x2="1088.50" y2="869.30" stroke="#000" stroke-width="1.8"/>
<line x1="640.60" y1="869.30" x2="647.40" y2="869.30" stroke="#000" stroke-width="1.5"/>
<text x="628.00" y="875.69" font-size="18" font-weight="bold" text-anchor="end">0</text>
<line x1="640.60" y1="826.71" x2="647.40" y2="826.71" stroke="#000" stroke-width="1.5"/>
<text x="628.00" y="833.10" font-size="18" font-weight="bold" text-anchor="end">0.5</text>
<line x1="640.60" y1="784.13" x2="647.40" y2="784.13" stroke="#000" stroke-width="1.5"/>
<text x="628.00" y="790.52" font-size="18" font-weight="bold" text-anchor="end">1</text>
<line x1="640.60" y1="741.54" x2="647.40" y2="741.54" stroke="#000" stroke-width="1.5"/>
<text x="628.00" y="747.93" font-size="18" font-weight="bold" text-anchor="end">1.5</text>
<line x1="640.60" y1="698.96" x2="647.40" y2="698.96" stroke="#000" stroke-width="1.5"/>
<text x="628.00" y="705.35" font-size="18" font-weight="bold" text-anchor="end">2</text>
<line x1="640.60" y1="656.37" x2="647.40" y2="656.37" stroke="#000" stroke-width="1.5"/>
<text x="628.00" y="662.76" font-size="18" font-weight="bold" text-anchor="end">2.5</text>
<line x1="640.60" y1="613.79" x2="647.40" y2="613.79" stroke="#000" stroke-width="1.5"/>
<text x="628.00" y="620.18" font-size="18" font-weight="bold" text-anchor="end">3</text>
<line x1="640.60" y1="571.20" x2="647.40" y2="571.20" stroke="#000" stroke-width="1.5"/>
<text x="628.00" y="577.59" font-size="18" font-weight="bold" text-anchor="end">3.5</text>
<line x1="647.40" y1="869.30" x2="647.40" y2="875.80" stroke="#000" stroke-width="1.5"/>
<line x1="793.80" y1="869.30" x2="793.80" y2="875.80" stroke="#000" stroke-width="1.5"/>
<line x1="940.90" y1="869.30" x2="940.90" y2="875.80" stroke="#000" stroke-width="1.5"/>
<line x1="1087.60" y1="869.30" x2="1087.60" y2="875.80" stroke="#000" stroke-width="1.5"/>
<text x="584.00" y="730.50" font-size="17.5" font-weight="bold" text-anchor="middle" transform="rotate(-90 584.00 730.50)" textLength="212.0" lengthAdjust="spacingAndGlyphs">Relative mRNA expression</text>
<text x="720.60" y="895.30" font-size="19" text-anchor="middle" textLength="32.0" lengthAdjust="spacingAndGlyphs" stroke="#000" stroke-width="0.5">PS2</text>
<text x="870.30" y="895.30" font-size="19" text-anchor="middle" textLength="58.0" lengthAdjust="spacingAndGlyphs" stroke="#000" stroke-width="0.5">GREB1</text>
<text x="1018.30" y="895.30" font-size="19" text-anchor="middle" textLength="58.0" lengthAdjust="spacingAndGlyphs" stroke="#000" stroke-width="0.5">PDZK1</text>
<text x="706.00" y="817.84" font-size="19.4" text-anchor="middle" textLength="15.4" lengthAdjust="spacing">**</text>
<text x="760.00" y="767.44" font-size="19.4" text-anchor="middle" textLength="23.1" lengthAdjust="spacing">***</text>
<text x="853.40" y="834.74" font-size="19.4" text-anchor="middle" textLength="15.4" lengthAdjust="spacing">**</text>
<text x="907.00" y="781.04" font-size="19.4" text-anchor="middle" textLength="23.1" lengthAdjust="spacing">***</text>
<text x="1000.00" y="840.24" font-size="19.4" text-anchor="middle" textLength="23.1" lengthAdjust="spacing">***</text>
<text x="1054.00" y="787.54" font-size="19.4" text-anchor="middle" textLength="23.1" lengthAdjust="spacing">***</text>
<rect x="670.70" y="562.80" width="11.00" height="11.00" fill="#000" stroke="#000" stroke-width="1.1"/>
<text x="686.80" y="574.87" font-size="18.5" font-weight="bold" textLength="142.5" lengthAdjust="spacingAndGlyphs">siControl+Vehicle</text>
<rect x="670.70" y="589.10" width="11.00" height="11.00" fill="#b3b3b3" stroke="#000" stroke-width="1.1"/>
<text x="686.80" y="601.17" font-size="18.5" font-weight="bold" textLength="145.0" lengthAdjust="spacingAndGlyphs">siRNF181+Vehicle</text>
<rect x="670.70" y="615.50" width="11.00" height="11.00" fill="#595959" stroke="#000" stroke-width="1.1"/>
<text x="686.80" y="627.57" font-size="18.5" font-weight="bold" textLength="102.3" lengthAdjust="spacingAndGlyphs">siControl+E2</text>
<rect x="670.70" y="641.80" width="11.00" height="11.00" fill="#d9d9d9" stroke="#000" stroke-width="1.1"/>
<text x="686.80" y="653.87" font-size="18.5" font-weight="bold" textLength="104.8" lengthAdjust="spacingAndGlyphs">siRNF181+E2</text>
<text x="1097.47" y="518.60" font-size="41.5" font-weight="bold">G</text>
<text x="1384.00" y="555.50" font-size="23.5" text-anchor="middle" textLength="75.5" lengthAdjust="spacingAndGlyphs" stroke="#000" stroke-width="0.3">MCF-7</text>
<rect x="1256.15" y="780.77" width="44.30" height="97.63" fill="#111" stroke="#000" stroke-width="1.3"/>
<line x1="1278.30" y1="780.27" x2="1278.30" y2="774.87" stroke="#000" stroke-width="1.6"/>
<line x1="1275.15" y1="774.87" x2="1281.45" y2="774.87" stroke="#000" stroke-width="1.6"/>
<rect x="1301.35" y="831.80" width="44.30" height="46.60" fill="#b3b3b3" stroke="#000" stroke-width="1.3"/>
<line x1="1323.50" y1="831.30" x2="1323.50" y2="825.90" stroke="#000" stroke-width="1.6"/>
<line x1="1320.35" y1="825.90" x2="1326.65" y2="825.90" stroke="#000" stroke-width="1.6"/>
<rect x="1414.65" y="641.91" width="44.30" height="236.49" fill="#111" stroke="#000" stroke-width="1.3"/>
<line x1="1436.80" y1="641.41" x2="1436.80" y2="632.09" stroke="#000" stroke-width="1.6"/>
<line x1="1433.65" y1="632.09" x2="1439.95" y2="632.09" stroke="#000" stroke-width="1.6"/>
<rect x="1459.85" y="791.07" width="44.30" height="87.33" fill="#b3b3b3" stroke="#000" stroke-width="1.3"/>
<line x1="1482.00" y1="790.57" x2="1482.00" y2="771.93" stroke="#000" stroke-width="1.6"/>
<line x1="1478.85" y1="771.93" x2="1485.15" y2="771.93" stroke="#000" stroke-width="1.6"/>
<line x1="1222.20" y1="583.10" x2="1222.20" y2="884.90" stroke="#000" stroke-width="1.9"/>
<line x1="1215.40" y1="878.40" x2="1539.70" y2="878.40" stroke="#000" stroke-width="2.1999999999999997"/>
<line x1="1215.40" y1="878.40" x2="1222.20" y2="878.40" stroke="#000" stroke-width="1.9"/>
<text x="1202.50" y="886.56" font-size="23" text-anchor="end" stroke="#000" stroke-width="0.6">0</text>
<line x1="1215.40" y1="829.33" x2="1222.20" y2="829.33" stroke="#000" stroke-width="1.9"/>
<text x="1202.50" y="837.50" font-size="23" text-anchor="end" stroke="#000" stroke-width="0.6">0.5</text>
<line x1="1215.40" y1="780.27" x2="1222.20" y2="780.27" stroke="#000" stroke-width="1.9"/>
<text x="1202.50" y="788.43" font-size="23" text-anchor="end" stroke="#000" stroke-width="0.6">1</text>
<line x1="1215.40" y1="731.20" x2="1222.20" y2="731.20" stroke="#000" stroke-width="1.9"/>
<text x="1202.50" y="739.37" font-size="23" text-anchor="end" stroke="#000" stroke-width="0.6">1.5</text>
<line x1="1215.40" y1="682.13" x2="1222.20" y2="682.13" stroke="#000" stroke-width="1.9"/>
<text x="1202.50" y="690.30" font-size="23" text-anchor="end" stroke="#000" stroke-width="0.6">2</text>
<line x1="1215.40" y1="633.07" x2="1222.20" y2="633.07" stroke="#000" stroke-width="1.9"/>
<text x="1202.50" y="641.23" font-size="23" text-anchor="end" stroke="#000" stroke-width="0.6">2.5</text>
<line x1="1215.40" y1="584.00" x2="1222.20" y2="584.00" stroke="#000" stroke-width="1.9"/>
<text x="1202.50" y="592.16" font-size="23" text-anchor="end" stroke="#000" stroke-width="0.6">3</text>
<line x1="1222.20" y1="878.40" x2="1222.20" y2="884.90" stroke="#000" stroke-width="1.9"/>
<line x1="1380.00" y1="878.40" x2="1380.00" y2="884.90" stroke="#000" stroke-width="1.9"/>
<line x1="1538.80" y1="878.40" x2="1538.80" y2="884.90" stroke="#000" stroke-width="1.9"/>
<text x="1147.00" y="734.50" font-size="24.7" text-anchor="middle" transform="rotate(-90 1147.00 734.50)" textLength="285.0" lengthAdjust="spacingAndGlyphs" stroke="#000" stroke-width="0.6">Relative luciferase activity</text>
<text x="1301.60" y="913.00" font-size="23.5" text-anchor="middle" textLength="79.0" lengthAdjust="spacingAndGlyphs" stroke="#000" stroke-width="0.6">Vehicle</text>
<text x="1459.80" y="913.00" font-size="23.5" text-anchor="middle" textLength="24.5" lengthAdjust="spacingAndGlyphs" stroke="#000" stroke-width="0.6">E2</text>
<text x="1324.70" y="823.74" font-size="23.5" text-anchor="middle" textLength="28.5" lengthAdjust="spacing">***</text>
<text x="1480.30" y="763.84" font-size="23.5" text-anchor="middle" textLength="19.0" lengthAdjust="spacing">**</text>
<rect x="1261.80" y="592.70" width="11.60" height="11.60" fill="#111" stroke="#000" stroke-width="1.1"/>
<text x="1279.00" y="606.77" font-size="23.3" textLength="98.6" lengthAdjust="spacingAndGlyphs" stroke="#000" stroke-width="0.5">siControl</text>
<rect x="1261.80" y="627.50" width="11.60" height="11.60" fill="#b3b3b3" stroke="#000" stroke-width="1.1"/>
<text x="1279.00" y="641.57" font-size="23.3" textLength="103.5" lengthAdjust="spacingAndGlyphs" stroke="#000" stroke-width="0.5">siRNF181</text>
<text x="1562.97" y="518.80" font-size="41.5" font-weight="bold">H</text>
<text x="1809.70" y="532.50" font-size="23" text-anchor="middle" textLength="53.0" lengthAdjust="spacingAndGlyphs" stroke="#000" stroke-width="0.3">T47D</text>
<rect x="1704.05" y="817.50" width="42.10" height="47.10" fill="#111" stroke="#000" stroke-width="1.3"/>
<line x1="1725.10" y1="817.00" x2="1725.10" y2="811.76" stroke="#000" stroke-width="1.6"/>
<line x1="1721.95" y1="811.76" x2="1728.25" y2="811.76" stroke="#000" stroke-width="1.6"/>
<rect x="1747.05" y="857.72" width="42.10" height="6.88" fill="#b3b3b3" stroke="#000" stroke-width="1.3"/>
<line x1="1768.10" y1="857.22" x2="1768.10" y2="851.75" stroke="#000" stroke-width="1.6"/>
<line x1="1764.95" y1="851.75" x2="1771.25" y2="851.75" stroke="#000" stroke-width="1.6"/>
<rect x="1853.75" y="630.43" width="42.10" height="234.17" fill="#111" stroke="#000" stroke-width="1.3"/>
<line x1="1874.80" y1="629.93" x2="1874.80" y2="619.46" stroke="#000" stroke-width="1.6"/>
<line x1="1871.65" y1="619.46" x2="1877.95" y2="619.46" stroke="#000" stroke-width="1.6"/>
<rect x="1896.75" y="834.64" width="42.10" height="29.96" fill="#b3b3b3" stroke="#000" stroke-width="1.3"/>
<line x1="1917.80" y1="834.14" x2="1917.80" y2="824.14" stroke="#000" stroke-width="1.6"/>
<line x1="1914.65" y1="824.14" x2="1920.95" y2="824.14" stroke="#000" stroke-width="1.6"/>
<line x1="1671.80" y1="578.10" x2="1671.80" y2="871.10" stroke="#000" stroke-width="1.9"/>
<line x1="1665.00" y1="864.60" x2="1971.90" y2="864.60" stroke="#000" stroke-width="2.1999999999999997"/>
<line x1="1665.00" y1="864.60" x2="1671.80" y2="864.60" stroke="#000" stroke-width="1.9"/>
<text x="1653.50" y="872.76" font-size="23" text-anchor="end" stroke="#000" stroke-width="0.6">0</text>
<line x1="1665.00" y1="817.00" x2="1671.80" y2="817.00" stroke="#000" stroke-width="1.9"/>
<text x="1653.50" y="825.16" font-size="23" text-anchor="end" stroke="#000" stroke-width="0.6">1</text>
<line x1="1665.00" y1="769.40" x2="1671.80" y2="769.40" stroke="#000" stroke-width="1.9"/>
<text x="1653.50" y="777.56" font-size="23" text-anchor="end" stroke="#000" stroke-width="0.6">2</text>
<line x1="1665.00" y1="721.80" x2="1671.80" y2="721.80" stroke="#000" stroke-width="1.9"/>
<text x="1653.50" y="729.96" font-size="23" text-anchor="end" stroke="#000" stroke-width="0.6">3</text>
<line x1="1665.00" y1="674.20" x2="1671.80" y2="674.20" stroke="#000" stroke-width="1.9"/>
<text x="1653.50" y="682.37" font-size="23" text-anchor="end" stroke="#000" stroke-width="0.6">4</text>
<line x1="1665.00" y1="626.60" x2="1671.80" y2="626.60" stroke="#000" stroke-width="1.9"/>
<text x="1653.50" y="634.76" font-size="23" text-anchor="end" stroke="#000" stroke-width="0.6">5</text>
<line x1="1665.00" y1="579.00" x2="1671.80" y2="579.00" stroke="#000" stroke-width="1.9"/>
<text x="1653.50" y="587.16" font-size="23" text-anchor="end" stroke="#000" stroke-width="0.6">6</text>
<line x1="1671.80" y1="864.60" x2="1671.80" y2="871.10" stroke="#000" stroke-width="1.9"/>
<line x1="1820.80" y1="864.60" x2="1820.80" y2="871.10" stroke="#000" stroke-width="1.9"/>
<line x1="1971.00" y1="864.60" x2="1971.00" y2="871.10" stroke="#000" stroke-width="1.9"/>
<text x="1619.80" y="733.50" font-size="24.5" text-anchor="middle" transform="rotate(-90 1619.80 733.50)" textLength="270.0" lengthAdjust="spacingAndGlyphs" stroke="#000" stroke-width="0.6">Relative luciferase activity</text>
<text x="1747.00" y="897.50" font-size="23" text-anchor="middle" textLength="75.5" lengthAdjust="spacingAndGlyphs" stroke="#000" stroke-width="0.6">Vehicle</text>
<text x="1897.00" y="897.50" font-size="23" text-anchor="middle" textLength="24.0" lengthAdjust="spacingAndGlyphs" stroke="#000" stroke-width="0.6">E2</text>
<text x="1767.00" y="850.34" font-size="23.5" text-anchor="middle" textLength="28.5" lengthAdjust="spacing">***</text>
<text x="1915.00" y="823.64" font-size="23.5" text-anchor="middle" textLength="28.5" lengthAdjust="spacing">***</text>
<rect x="1701.20" y="586.65" width="11.50" height="11.50" fill="#111" stroke="#000" stroke-width="1.1"/>
<text x="1717.70" y="600.32" font-size="22.3" textLength="93.7" lengthAdjust="spacingAndGlyphs" stroke="#000" stroke-width="0.5">siControl</text>
<rect x="1701.20" y="619.35" width="11.50" height="11.50" fill="#b3b3b3" stroke="#000" stroke-width="1.1"/>
<text x="1717.70" y="633.02" font-size="22.3" textLength="97.3" lengthAdjust="spacingAndGlyphs" stroke="#000" stroke-width="0.5">siRNF181</text>
<text x="24.88" y="998.50" font-size="41.5" font-weight="bold">I</text>
<text x="297.50" y="987.00" font-size="30" font-weight="bold" text-anchor="middle" textLength="82.5" lengthAdjust="spacingAndGlyphs">MCF-7</text>
<line x1="116.05" y1="1103.60" x2="116.05" y2="1082.39" stroke="#000" stroke-width="2.9"/>
<line x1="109.15" y1="1082.39" x2="122.95" y2="1082.39" stroke="#000" stroke-width="2.8"/>
<rect x="103.50" y="1105.00" width="25.80" height="248.10" fill="#000" stroke="#000" stroke-width="2.8"/>
<rect x="104.90" y="1106.40" width="22.30" height="246.70" fill="#000"/>
<line x1="143.95" y1="1218.87" x2="143.95" y2="1205.89" stroke="#000" stroke-width="2.9"/>
<line x1="137.05" y1="1205.89" x2="150.85" y2="1205.89" stroke="#000" stroke-width="2.8"/>
<rect x="131.40" y="1220.27" width="25.80" height="132.83" fill="#000" stroke="#000" stroke-width="2.8"/>
<rect x="132.80" y="1221.67" width="22.30" height="131.43" fill="#a0a0a0"/>
<line x1="171.85" y1="1161.23" x2="171.85" y2="1138.53" stroke="#000" stroke-width="2.9"/>
<line x1="164.95" y1="1138.53" x2="178.75" y2="1138.53" stroke="#000" stroke-width="2.8"/>
<rect x="159.30" y="1162.63" width="25.80" height="190.47" fill="#000" stroke="#000" stroke-width="2.8"/>
<rect x="160.70" y="1164.03" width="22.30" height="189.07" fill="#808080"/>
<line x1="199.75" y1="1256.04" x2="199.75" y2="1243.32" stroke="#000" stroke-width="2.9"/>
<line x1="192.85" y1="1243.32" x2="206.65" y2="1243.32" stroke="#000" stroke-width="2.8"/>
<rect x="187.20" y="1257.44" width="25.10" height="95.66" fill="#000" stroke="#000" stroke-width="2.8"/>
<rect x="188.60" y="1258.84" width="22.30" height="94.26" fill="#d9d9d9"/>
<line x1="255.90" y1="1103.60" x2="255.90" y2="1080.65" stroke="#000" stroke-width="2.9"/>
<line x1="249.00" y1="1080.65" x2="262.80" y2="1080.65" stroke="#000" stroke-width="2.8"/>
<rect x="243.35" y="1105.00" width="25.80" height="248.10" fill="#000" stroke="#000" stroke-width="2.8"/>
<rect x="244.75" y="1106.40" width="22.30" height="246.70" fill="#000"/>
<line x1="283.80" y1="1255.05" x2="283.80" y2="1252.05" stroke="#000" stroke-width="2.9"/>
<line x1="276.90" y1="1252.05" x2="290.70" y2="1252.05" stroke="#000" stroke-width="2.8"/>
<rect x="271.25" y="1256.45" width="25.80" height="96.65" fill="#000" stroke="#000" stroke-width="2.8"/>
<rect x="272.65" y="1257.85" width="22.30" height="95.25" fill="#a0a0a0"/>
<line x1="311.70" y1="1174.46" x2="311.70" y2="1152.25" stroke="#000" stroke-width="2.9"/>
<line x1="304.80" y1="1152.25" x2="318.60" y2="1152.25" stroke="#000" stroke-width="2.8"/>
<rect x="299.15" y="1175.86" width="25.80" height="177.24" fill="#000" stroke="#000" stroke-width="2.8"/>
<rect x="300.55" y="1177.26" width="22.30" height="175.84" fill="#808080"/>
<line x1="339.60" y1="1313.18" x2="339.60" y2="1310.19" stroke="#000" stroke-width="2.9"/>
<line x1="332.70" y1="1310.19" x2="346.50" y2="1310.19" stroke="#000" stroke-width="2.8"/>
<rect x="327.05" y="1314.58" width="25.10" height="38.52" fill="#000" stroke="#000" stroke-width="2.8"/>
<rect x="328.45" y="1315.98" width="22.30" height="37.12" fill="#d9d9d9"/>
<line x1="395.75" y1="1103.60" x2="395.75" y2="1084.14" stroke="#000" stroke-width="2.9"/>
<line x1="388.85" y1="1084.14" x2="402.65" y2="1084.14" stroke="#000" stroke-width="2.8"/>
<rect x="383.20" y="1105.00" width="25.80" height="248.10" fill="#000" stroke="#000" stroke-width="2.8"/>
<rect x="384.60" y="1106.40" width="22.30" height="246.70" fill="#000"/>
<line x1="423.65" y1="1220.12" x2="423.65" y2="1199.66" stroke="#000" stroke-width="2.9"/>
<line x1="416.75" y1="1199.66" x2="430.55" y2="1199.66" stroke="#000" stroke-width="2.8"/>
<rect x="411.10" y="1221.52" width="25.80" height="131.58" fill="#000" stroke="#000" stroke-width="2.8"/>
<rect x="412.50" y="1222.92" width="22.30" height="130.18" fill="#a0a0a0"/>
<line x1="451.55" y1="1191.42" x2="451.55" y2="1181.94" stroke="#000" stroke-width="2.9"/>
<line x1="444.65" y1="1181.94" x2="458.45" y2="1181.94" stroke="#000" stroke-width="2.8"/>
<rect x="439.00" y="1192.82" width="25.80" height="160.28" fill="#000" stroke="#000" stroke-width="2.8"/>
<rect x="440.40" y="1194.22" width="22.30" height="158.88" fill="#808080"/>
<line x1="479.45" y1="1289.98" x2="479.45" y2="1280.74" stroke="#000" stroke-width="2.9"/>
<line x1="472.55" y1="1280.74" x2="486.35" y2="1280.74" stroke="#000" stroke-width="2.8"/>
<rect x="466.90" y="1291.38" width="25.10" height="61.72" fill="#000" stroke="#000" stroke-width="2.8"/>
<rect x="468.30" y="1292.78" width="22.30" height="60.32" fill="#d9d9d9"/>
<line x1="87.60" y1="1051.90" x2="87.60" y2="1354.90" stroke="#000" stroke-width="3.6"/>
<line x1="76.00" y1="1353.10" x2="509.30" y2="1353.10" stroke="#000" stroke-width="3.6"/>
<line x1="76.00" y1="1353.10" x2="87.60" y2="1353.10" stroke="#000" stroke-width="3.6"/>
<text x="73.30" y="1360.73" font-size="21.5" font-weight="bold" text-anchor="end">0.0</text>
<line x1="76.00" y1="1303.20" x2="87.60" y2="1303.20" stroke="#000" stroke-width="3.6"/>
<text x="73.30" y="1310.83" font-size="21.5" font-weight="bold" text-anchor="end">0.2</text>
<line x1="76.00" y1="1253.30" x2="87.60" y2="1253.30" stroke="#000" stroke-width="3.6"/>
<text x="73.30" y="1260.93" font-size="21.5" font-weight="bold" text-anchor="end">0.4</text>
<line x1="76.00" y1="1203.40" x2="87.60" y2="1203.40" stroke="#000" stroke-width="3.6"/>
<text x="73.30" y="1211.03" font-size="21.5" font-weight="bold" text-anchor="end">0.6</text>
<line x1="76.00" y1="1153.50" x2="87.60" y2="1153.50" stroke="#000" stroke-width="3.6"/>
<text x="73.30" y="1161.13" font-size="21.5" font-weight="bold" text-anchor="end">0.8</text>
<line x1="76.00" y1="1103.60" x2="87.60" y2="1103.60" stroke="#000" stroke-width="3.6"/>
<text x="73.30" y="1111.23" font-size="21.5" font-weight="bold" text-anchor="end">1.0</text>
<line x1="76.00" y1="1053.70" x2="87.60" y2="1053.70" stroke="#000" stroke-width="3.6"/>
<text x="73.30" y="1061.33" font-size="21.5" font-weight="bold" text-anchor="end">1.2</text>
<line x1="157.70" y1="1353.10" x2="157.70" y2="1364.60" stroke="#000" stroke-width="3.2"/>
<text x="157.40" y="1389.80" font-size="21.5" font-weight="bold" text-anchor="middle" textLength="39.5" lengthAdjust="spacingAndGlyphs">PS2</text>
<line x1="297.00" y1="1353.10" x2="297.00" y2="1364.60" stroke="#000" stroke-width="3.2"/>
<text x="296.70" y="1389.80" font-size="21.5" font-weight="bold" text-anchor="middle" textLength="67.5" lengthAdjust="spacingAndGlyphs">PDZK1</text>
<line x1="437.30" y1="1353.10" x2="437.30" y2="1364.60" stroke="#000" stroke-width="3.2"/>
<text x="437.00" y="1389.80" font-size="21.5" font-weight="bold" text-anchor="middle" textLength="71.5" lengthAdjust="spacingAndGlyphs">GREB1</text>
<text x="28.00" y="1202.30" font-size="24.5" font-weight="bold" text-anchor="middle" transform="rotate(-90 28.00 1202.30)" textLength="323.0" lengthAdjust="spacingAndGlyphs" word-spacing="8">Relative mRNA expression</text>
<text x="143.00" y="1200.02" font-size="21.5" text-anchor="middle" textLength="24.6" lengthAdjust="spacing">***</text>
<text x="199.00" y="1236.52" font-size="21.5" text-anchor="middle" textLength="16.4" lengthAdjust="spacing">**</text>
<text x="283.50" y="1244.52" font-size="21.5" text-anchor="middle" textLength="24.6" lengthAdjust="spacing">***</text>
<text x="339.00" y="1304.02" font-size="21.5" text-anchor="middle" textLength="24.6" lengthAdjust="spacing">***</text>
<text x="422.30" y="1191.52" font-size="21.5" text-anchor="middle" textLength="16.4" lengthAdjust="spacing">**</text>
<text x="479.50" y="1271.02" font-size="21.5" text-anchor="middle" textLength="24.6" lengthAdjust="spacing">***</text>
<rect x="479.90" y="1019.80" width="12.60" height="12.60" fill="#000" stroke="#000" stroke-width="2.8"/>
<text x="517.30" y="1034.04" font-size="24" font-weight="bold" textLength="196.0" lengthAdjust="spacingAndGlyphs">siControl+Vehicle</text>
<rect x="479.90" y="1062.10" width="12.60" height="12.60" fill="#a0a0a0" stroke="#000" stroke-width="2.8"/>
<text x="517.30" y="1076.34" font-size="24" font-weight="bold" textLength="198.0" lengthAdjust="spacingAndGlyphs">siRNF181+Vehicle</text>
<rect x="479.90" y="1104.40" width="12.60" height="12.60" fill="#808080" stroke="#000" stroke-width="2.8"/>
<text x="517.30" y="1118.64" font-size="24" font-weight="bold" textLength="229.0" lengthAdjust="spacingAndGlyphs">siControl+Tamoxifen</text>
<rect x="479.90" y="1147.10" width="12.60" height="12.60" fill="#d9d9d9" stroke="#000" stroke-width="2.8"/>
<text x="517.30" y="1161.34" font-size="24" font-weight="bold" textLength="231.0" lengthAdjust="spacingAndGlyphs">siRNF181+Tamoxifen</text>
<text x="753.69" y="1027.60" font-size="41.5" font-weight="bold" textLength="21.0" lengthAdjust="spacingAndGlyphs">J</text>
<text x="1075.00" y="1003.40" font-size="25.5" font-weight="bold" text-anchor="middle" textLength="78.0" lengthAdjust="spacingAndGlyphs">MCF-7</text>
<polyline fill="none" stroke="#000" stroke-width="3.5" stroke-dasharray="11.5 7.5" stroke-dashoffset="-4" points="894.1,1087.5 966.4,1243.3 1038.6,1282.8 1110.9,1289.4 1183.1,1304.1 1255.7,1313.2"/>
<polyline fill="none" stroke="#000" stroke-width="3.6" points="894.1,1087.5 966.4,1172.2 1038.6,1227.7 1110.9,1245.3 1183.1,1252.4 1255.7,1266.1"/>
<line x1="894.10" y1="1069.95" x2="894.10" y2="1105.13" stroke="#000" stroke-width="2"/>
<line x1="888.60" y1="1069.95" x2="899.60" y2="1069.95" stroke="#000" stroke-width="2"/>
<line x1="888.60" y1="1105.13" x2="899.60" y2="1105.13" stroke="#000" stroke-width="2"/>
<circle cx="894.1" cy="1087.5" r="5.3" fill="#000"/>
<line x1="966.40" y1="1160.66" x2="966.40" y2="1183.77" stroke="#000" stroke-width="2"/>
<line x1="960.90" y1="1160.66" x2="971.90" y2="1160.66" stroke="#000" stroke-width="2"/>
<line x1="960.90" y1="1183.77" x2="971.90" y2="1183.77" stroke="#000" stroke-width="2"/>
<circle cx="966.4" cy="1172.2" r="5.3" fill="#000"/>
<line x1="1038.60" y1="1216.18" x2="1038.60" y2="1239.30" stroke="#000" stroke-width="2"/>
<line x1="1033.10" y1="1216.18" x2="1044.10" y2="1216.18" stroke="#000" stroke-width="2"/>
<line x1="1033.10" y1="1239.30" x2="1044.10" y2="1239.30" stroke="#000" stroke-width="2"/>
<circle cx="1038.6" cy="1227.7" r="5.3" fill="#000"/>
<line x1="1110.90" y1="1236.78" x2="1110.90" y2="1253.87" stroke="#000" stroke-width="2"/>
<line x1="1105.40" y1="1236.78" x2="1116.40" y2="1236.78" stroke="#000" stroke-width="2"/>
<line x1="1105.40" y1="1253.87" x2="1116.40" y2="1253.87" stroke="#000" stroke-width="2"/>
<circle cx="1110.9" cy="1245.3" r="5.3" fill="#000"/>
<line x1="1183.10" y1="1242.06" x2="1183.10" y2="1262.66" stroke="#000" stroke-width="2"/>
<line x1="1177.60" y1="1242.06" x2="1188.60" y2="1242.06" stroke="#000" stroke-width="2"/>
<line x1="1177.60" y1="1262.66" x2="1188.60" y2="1262.66" stroke="#000" stroke-width="2"/>
<circle cx="1183.1" cy="1252.4" r="5.3" fill="#000"/>
<line x1="1255.70" y1="1254.00" x2="1255.70" y2="1278.12" stroke="#000" stroke-width="2"/>
<line x1="1250.20" y1="1254.00" x2="1261.20" y2="1254.00" stroke="#000" stroke-width="2"/>
<line x1="1250.20" y1="1278.12" x2="1261.20" y2="1278.12" stroke="#000" stroke-width="2"/>
<circle cx="1255.7" cy="1266.1" r="5.3" fill="#000"/>
<line x1="894.10" y1="1069.95" x2="894.10" y2="1105.13" stroke="#000" stroke-width="2"/>
<line x1="888.60" y1="1069.95" x2="899.60" y2="1069.95" stroke="#000" stroke-width="2"/>
<line x1="888.60" y1="1105.13" x2="899.60" y2="1105.13" stroke="#000" stroke-width="2"/>
<rect x="889.10" y="1082.54" width="10.00" height="10.00" fill="#000"/>
<line x1="966.40" y1="1230.25" x2="966.40" y2="1256.38" stroke="#000" stroke-width="2"/>
<line x1="960.90" y1="1230.25" x2="971.90" y2="1230.25" stroke="#000" stroke-width="2"/>
<line x1="960.90" y1="1256.38" x2="971.90" y2="1256.38" stroke="#000" stroke-width="2"/>
<rect x="961.40" y="1238.32" width="10.00" height="10.00" fill="#000"/>
<line x1="1038.60" y1="1273.22" x2="1038.60" y2="1292.31" stroke="#000" stroke-width="2"/>
<line x1="1033.10" y1="1273.22" x2="1044.10" y2="1273.22" stroke="#000" stroke-width="2"/>
<line x1="1033.10" y1="1292.31" x2="1044.10" y2="1292.31" stroke="#000" stroke-width="2"/>
<rect x="1033.60" y="1277.76" width="10.00" height="10.00" fill="#000"/>
<line x1="1110.90" y1="1278.62" x2="1110.90" y2="1300.23" stroke="#000" stroke-width="2"/>
<line x1="1105.40" y1="1278.62" x2="1116.40" y2="1278.62" stroke="#000" stroke-width="2"/>
<line x1="1105.40" y1="1300.23" x2="1116.40" y2="1300.23" stroke="#000" stroke-width="2"/>
<rect x="1105.90" y="1284.42" width="10.00" height="10.00" fill="#000"/>
<line x1="1183.10" y1="1293.82" x2="1183.10" y2="1314.42" stroke="#000" stroke-width="2"/>
<line x1="1177.60" y1="1293.82" x2="1188.60" y2="1293.82" stroke="#000" stroke-width="2"/>
<line x1="1177.60" y1="1314.42" x2="1188.60" y2="1314.42" stroke="#000" stroke-width="2"/>
<rect x="1178.10" y="1299.12" width="10.00" height="10.00" fill="#000"/>
<line x1="1255.70" y1="1305.63" x2="1255.70" y2="1320.70" stroke="#000" stroke-width="2"/>
<line x1="1250.20" y1="1305.63" x2="1261.20" y2="1305.63" stroke="#000" stroke-width="2"/>
<line x1="1250.20" y1="1320.70" x2="1261.20" y2="1320.70" stroke="#000" stroke-width="2"/>
<rect x="1250.70" y="1308.16" width="10.00" height="10.00" fill="#000"/>
<line x1="894.10" y1="1037.10" x2="894.10" y2="1342.00" stroke="#000" stroke-width="3.6"/>
<line x1="882.50" y1="1340.30" x2="1257.50" y2="1340.30" stroke="#000" stroke-width="3.6"/>
<line x1="882.50" y1="1340.30" x2="894.10" y2="1340.30" stroke="#000" stroke-width="3.2"/>
<text x="879.70" y="1347.75" font-size="21" font-weight="bold" text-anchor="end">0.0</text>
<line x1="882.50" y1="1290.05" x2="894.10" y2="1290.05" stroke="#000" stroke-width="3.2"/>
<text x="879.70" y="1297.50" font-size="21" font-weight="bold" text-anchor="end">0.2</text>
<line x1="882.50" y1="1239.80" x2="894.10" y2="1239.80" stroke="#000" stroke-width="3.2"/>
<text x="879.70" y="1247.25" font-size="21" font-weight="bold" text-anchor="end">0.4</text>
<line x1="882.50" y1="1189.55" x2="894.10" y2="1189.55" stroke="#000" stroke-width="3.2"/>
<text x="879.70" y="1197.00" font-size="21" font-weight="bold" text-anchor="end">0.6</text>
<line x1="882.50" y1="1139.30" x2="894.10" y2="1139.30" stroke="#000" stroke-width="3.2"/>
<text x="879.70" y="1146.75" font-size="21" font-weight="bold" text-anchor="end">0.8</text>
<line x1="882.50" y1="1089.05" x2="894.10" y2="1089.05" stroke="#000" stroke-width="3.2"/>
<text x="879.70" y="1096.50" font-size="21" font-weight="bold" text-anchor="end">1.0</text>
<line x1="882.50" y1="1038.80" x2="894.10" y2="1038.80" stroke="#000" stroke-width="3.2"/>
<text x="879.70" y="1046.25" font-size="21" font-weight="bold" text-anchor="end">1.2</text>
<line x1="894.10" y1="1340.30" x2="894.10" y2="1350.30" stroke="#000" stroke-width="3.2"/>
<text x="894.10" y="1374.30" font-size="21" font-weight="bold" text-anchor="middle">0</text>
<line x1="966.40" y1="1340.30" x2="966.40" y2="1350.30" stroke="#000" stroke-width="3.2"/>
<text x="966.40" y="1374.30" font-size="21" font-weight="bold" text-anchor="middle">1</text>
<line x1="1038.60" y1="1340.30" x2="1038.60" y2="1350.30" stroke="#000" stroke-width="3.2"/>
<text x="1038.60" y="1374.30" font-size="21" font-weight="bold" text-anchor="middle">2</text>
<line x1="1110.90" y1="1340.30" x2="1110.90" y2="1350.30" stroke="#000" stroke-width="3.2"/>
<text x="1110.90" y="1374.30" font-size="21" font-weight="bold" text-anchor="middle">3</text>
<line x1="1183.10" y1="1340.30" x2="1183.10" y2="1350.30" stroke="#000" stroke-width="3.2"/>
<text x="1183.10" y="1374.30" font-size="21" font-weight="bold" text-anchor="middle">4</text>
<line x1="1255.70" y1="1340.30" x2="1255.70" y2="1350.30" stroke="#000" stroke-width="3.2"/>
<text x="1255.70" y="1374.30" font-size="21" font-weight="bold" text-anchor="middle">5</text>
<text x="1075.00" y="1408.50" font-size="20" font-weight="bold" text-anchor="middle" textLength="198.0" lengthAdjust="spacingAndGlyphs">Tamoxifen (μmol/L)</text>
<text x="835.50" y="1187.00" font-size="21" font-weight="bold" text-anchor="middle" transform="rotate(-90 835.50 1187.00)" textLength="284.0" lengthAdjust="spacingAndGlyphs">Relative absorbance (450nm)</text>
<text x="965.70" y="1152.25" font-size="20" text-anchor="middle" textLength="15.6" lengthAdjust="spacing">**</text>
<text x="1038.00" y="1207.25" font-size="20" text-anchor="middle" textLength="15.6" lengthAdjust="spacing">**</text>
<text x="1110.30" y="1228.75" font-size="20" text-anchor="middle" textLength="15.6" lengthAdjust="spacing">**</text>
<text x="1183.10" y="1236.25" font-size="20" text-anchor="middle" textLength="15.6" lengthAdjust="spacing">**</text>
<text x="1255.30" y="1247.25" font-size="20" text-anchor="middle" textLength="15.6" lengthAdjust="spacing">**</text>
<line x1="1115.50" y1="1073.30" x2="1143.30" y2="1073.30" stroke="#000" stroke-width="3.8"/>
<circle cx="1129.3" cy="1073.3" r="5.3" fill="#000"/>
<text x="1158.70" y="1080.35" font-size="21" font-weight="bold" textLength="95.0" lengthAdjust="spacingAndGlyphs">siControl</text>
<line x1="1115.50" y1="1109.00" x2="1143.30" y2="1109.00" stroke="#000" stroke-width="3.8"/>
<rect x="1124.10" y="1103.80" width="10.40" height="10.40" fill="#000"/>
<text x="1158.70" y="1116.05" font-size="21" font-weight="bold" textLength="95.5" lengthAdjust="spacingAndGlyphs">siRNF181</text>
</svg>
</body></html>
